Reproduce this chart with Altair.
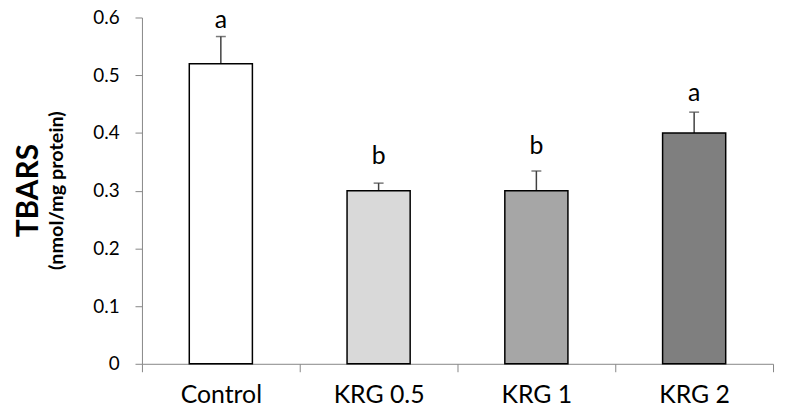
import altair as alt
import pandas as pd

groups = ["Control", "KRG 0.5", "KRG 1", "KRG 2"]
means = [0.52, 0.30, 0.30, 0.40]
err_tops = [0.567, 0.313, 0.334, 0.436]
letters = ["a", "b", "b", "a"]
letter_pos = [0.581, 0.347, 0.364, 0.456]
fills = ["#ffffff", "#d9d9d9", "#a6a6a6", "#7f7f7f"]

df = pd.DataFrame({"group": groups, "mean": means, "top": err_tops,
                   "letter": letters, "lpos": letter_pos, "fill": fills})

FONT = "Lato"

x = alt.X("group:N", sort=groups, title=None,
          scale=alt.Scale(paddingInner=0, paddingOuter=0),
          axis=alt.Axis(labelAngle=0, labelAlign="center", labelBaseline="top",
                        tickBand="extent", tickSize=8, offset=0,
                        tickColor="#868686", domainColor="#868686",
                        labelFontSize=25, labelFont=FONT, labelColor="#000000",
                        labelPadding=11, domainWidth=1, tickWidth=1))
y = alt.Y("mean:Q", title=None,
          scale=alt.Scale(domain=[0, 0.6], nice=False),
          axis=alt.Axis(values=[0, 0.1, 0.2, 0.3, 0.4, 0.5, 0.6], format="~g",
                        grid=False, tickSize=7, tickColor="#868686", offset=0,
                        domainColor="#868686", labelFontSize=19, labelFont=FONT,
                        labelColor="#000000", labelPadding=16))

base = alt.Chart(df)

bars = base.mark_bar(width=alt.RelativeBandSize(0.4), stroke="#000000",
                     strokeWidth=1.5).encode(
    x=x, y=y, fill=alt.Fill("fill:N", scale=None))

rules = base.mark_rule(color="#404040", strokeWidth=1.5).encode(
    x=x, y="mean:Q", y2="top:Q")

caps = base.mark_tick(orient="horizontal", size=10, thickness=1.5,
                      color="#404040").encode(
    x=x, y="top:Q")

labels = base.mark_text(baseline="alphabetic", fontSize=25, font=FONT,
                        color="#000000").encode(
    x=x, y="lpos:Q", text="letter:N")

chart = alt.layer(rules, caps, bars, labels).properties(
    width=636, height=349,
    autosize=alt.AutoSizeParams(type="none"),
    padding={"top": 8, "left": 135, "right": 4, "bottom": 44},
    title=alt.Title(text="TBARS", subtitle="(nmol/mg protein)", orient="left",
                    anchor="middle", font=FONT, fontSize=30, fontWeight="bold",
                    subtitleFont=FONT, subtitleFontSize=20,
                    subtitleFontWeight="bold", color="#000000",
                    subtitleColor="#000000", subtitlePadding=3, offset=26)
).configure_view(stroke=None)

chart.save("out.html", embed_options={"renderer": "svg", "actions": False})
